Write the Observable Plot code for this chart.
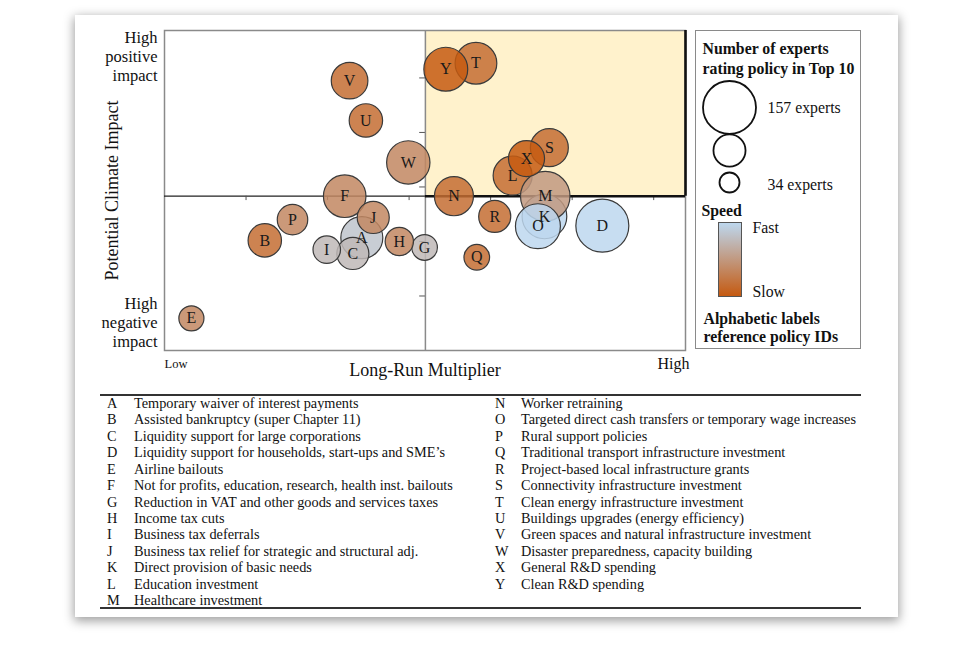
<!DOCTYPE html>
<html><head><meta charset="utf-8">
<script src="https://cdn.jsdelivr.net/npm/d3@7"></script>
<script src="https://cdn.jsdelivr.net/npm/@observablehq/plot@0.6"></script>
<style>
body{margin:0;background:#fff;font-family:"Liberation Serif","Times New Roman",serif;width:975px;height:653px;position:relative;overflow:hidden;color:#111}
#card{position:absolute;left:75px;top:15px;width:823px;height:602px;background:#fff;box-shadow:0 3px 10px 1px rgba(0,0,0,0.38)}
#chart{position:absolute;left:0;top:0}
#legbox{position:absolute;left:695px;top:30px;width:166px;height:319px;border:1.5px solid #8a8a8a;box-sizing:border-box}
#grad{position:absolute;left:718px;top:222px;width:24px;height:75px;border:1px solid #555;box-sizing:border-box}
.hline{position:absolute;left:100px;width:761px;height:2px;background:#333}
.row{position:absolute;font-size:14.3px;line-height:16px;white-space:nowrap}
</style></head><body>
<div id="card"></div>
<div id="chart"></div>
<div id="legbox"></div>
<div id="grad"></div>
<div class="hline" style="top:394px"></div>
<div class="hline" style="top:607px"></div>
<div id="table"></div>
<script>
// ---- data ----
const ids = ["A","B","C","D","E","F","G","H","I","J","K","L","M","N","O","P","Q","R","S","T","U","V","W","X","Y"];
const names = [
  "Temporary waiver of interest payments",
  "Assisted bankruptcy (super Chapter 11)",
  "Liquidity support for large corporations",
  "Liquidity support for households, start-ups and SME\u2019s",
  "Airline bailouts",
  "Not for profits, education, research, health inst. bailouts",
  "Reduction in VAT and other goods and services taxes",
  "Income tax cuts",
  "Business tax deferrals",
  "Business tax relief for strategic and structural adj.",
  "Direct provision of basic needs",
  "Education investment",
  "Healthcare investment",
  "Worker retraining",
  "Targeted direct cash transfers or temporary wage increases",
  "Rural support policies",
  "Traditional transport infrastructure investment",
  "Project-based local infrastructure grants",
  "Connectivity infrastructure investment",
  "Clean energy infrastructure investment",
  "Buildings upgrades (energy efficiency)",
  "Green spaces and natural infrastructure investment",
  "Disaster preparedness, capacity building",
  "General R&D spending",
  "Clean R&D spending"
];
// Long-run multiplier (x) and potential climate impact (y), in axis units
const multiplier = [2.42,1.23,2.31,5.37,0.33,2.21,3.19,2.88,1.99,2.56,4.66,4.27,4.67,3.55,4.58,1.57,3.83,4.05,4.72,3.82,2.47,2.27,2.99,4.44,3.45];
const climate    = [2.07,2.02,1.78,2.29,0.59,2.83,1.89,2.00,1.85,2.44,2.46,3.21,2.83,2.83,2.28,2.40,1.71,2.46,3.72,5.27,4.22,4.95,3.45,3.52,5.16];
// number of experts rating policy in top 10
const experts    = [116,84,79,157,53,118,55,65,62,79,126,105,144,105,127,73,55,79,101,115,84,96,121,94,123];
// speed: 1 = fast, 0 = slow
const speed      = [0.85,0.15,0.75,1.0,0.36,0.36,0.75,0.36,0.75,0.36,1.0,0.15,0.5,0.15,1.0,0.36,0.15,0.15,0.15,0.15,0.15,0.15,0.36,0.0,0.0];
const legendExperts = [157, 79, 34];
const xTicks = [1,2,3,4,5,6];
const yTicks = [1,2,3,4,5];
const xMax = 6.39, yMax = 5.87;   // axis extents
const xMid = 3.2, yMid = 2.83;    // quadrant dividers
const slowColor = "#c55a11", fastColor = "#bdd7ee";

const policies = ids.map((id, i) => ({id, name: names[i], x: multiplier[i], y: climate[i], experts: experts[i], speed: speed[i]}));

const serif = "Liberation Serif";
const lt = (text, o) => Plot.text([text], {lineAnchor: "middle", fill: "#111", ...o});
const chart = Plot.plot({
  width: 975, height: 380,
  marginLeft: 164, marginRight: 290, marginTop: 30, marginBottom: 30,
  style: {background: "transparent", fontFamily: serif},
  x: {domain: [0, xMax], axis: null},
  y: {domain: [0, yMax], axis: null},
  r: {type: "linear", domain: [34, 157], range: [10, 26.5]},
  color: {type: "linear", domain: [0, 1], range: [slowColor, fastColor], interpolate: "rgb"},
  marks: [
    Plot.rect([0], {x1: xMid, x2: xMax, y1: yMid, y2: yMax, fill: "#fff2cc"}),
    Plot.frame({stroke: "#8a8a8a", strokeWidth: 1.5}),
    Plot.ruleX([xMid], {stroke: "#8a8a8a", strokeWidth: 1.5}),
    Plot.ruleY([yMid], {x1: 0, x2: xMid, stroke: "#222", strokeWidth: 1.3}),
    Plot.ruleX(xTicks, {x: d => d, y1: yMid, y2: yMid - 0.08, stroke: "#555", strokeWidth: 1}),
    Plot.ruleY(yTicks, {y: d => d, x1: xMid - 0.07, x2: xMid, stroke: "#555", strokeWidth: 1}),
    Plot.ruleY([yMid], {x1: xMid, x2: xMax, stroke: "#111", strokeWidth: 2.6}),
    Plot.ruleX([xMax], {y1: yMid, y2: yMax, stroke: "#111", strokeWidth: 2.6}),
    Plot.dot(policies, {x: "x", y: "y", r: "experts", fill: "speed", fillOpacity: 0.85, stroke: "#3a3a3a", strokeWidth: 1.2, sort: null}),
    Plot.text(policies, {x: "x", y: "y", text: "id", fontSize: 16, fill: "#1a1a1a", fontFamily: serif}),
    // axis titles
    lt("Potential Climate Impact", {frameAnchor: "left", textAnchor: "middle", rotate: -90, dx: -52, fontSize: 18}),
    lt("Long-Run Multiplier", {frameAnchor: "bottom", textAnchor: "middle", dy: 20, fontSize: 18}),
    lt("High\npositive\nimpact", {frameAnchor: "top-left", textAnchor: "end", dx: -7, dy: 25, lineHeight: 1.15, fontSize: 16.5}),
    lt("High\nnegative\nimpact", {frameAnchor: "bottom-left", textAnchor: "end", dx: -7, dy: -29, lineHeight: 1.15, fontSize: 16.5}),
    lt("Low", {frameAnchor: "bottom-left", textAnchor: "start", dx: 0, dy: 13, fontSize: 12.5}),
    lt("High", {frameAnchor: "bottom-right", textAnchor: "end", dx: 4, dy: 13, fontSize: 16}),
    // size legend
    Plot.dot([legendExperts[0]], {r: d => d, frameAnchor: "top-right", dx: 44, dy: 77, fill: "none", stroke: "#111", strokeWidth: 1.8}),
    Plot.dot([legendExperts[1]], {r: d => d, frameAnchor: "top-right", dx: 44, dy: 120, fill: "none", stroke: "#111", strokeWidth: 1.8}),
    Plot.dot([legendExperts[2]], {r: d => d, frameAnchor: "top-right", dx: 44, dy: 152, fill: "none", stroke: "#111", strokeWidth: 1.8}),
    lt("Number of experts\nrating policy in Top 10", {frameAnchor: "top-left", textAnchor: "start", dx: 538, dy: 27, lineHeight: 1.3, fontSize: 15.8, fontWeight: "bold"}),
    lt(`${legendExperts[0]} experts`, {frameAnchor: "top-left", textAnchor: "start", dx: 603, dy: 77, fontSize: 15.8}),
    lt(`${legendExperts[2]} experts`, {frameAnchor: "top-left", textAnchor: "start", dx: 603, dy: 154, fontSize: 15.8}),
    lt("Speed", {frameAnchor: "top-left", textAnchor: "start", dx: 537, dy: 180, fontSize: 15.8, fontWeight: "bold"}),
    lt("Fast", {frameAnchor: "top-left", textAnchor: "start", dx: 588, dy: 197, fontSize: 15.8}),
    lt("Slow", {frameAnchor: "top-left", textAnchor: "start", dx: 588, dy: 261, fontSize: 15.8}),
    lt("Alphabetic labels\nreference policy IDs", {frameAnchor: "top-left", textAnchor: "start", dx: 539, dy: 297, lineHeight: 1.15, fontSize: 15.8, fontWeight: "bold"})
  ]
});
document.getElementById("chart").appendChild(chart);
document.getElementById("grad").style.background = `linear-gradient(to bottom, ${fastColor}, ${slowColor})`;

// policy key table
const table = document.getElementById("table");
policies.forEach((p, i) => {
  const col = i < 13 ? 0 : 1;
  const row = col ? i - 13 : i;
  const top = 395 + row * 16.42;
  const l = document.createElement("div");
  l.className = "row"; l.textContent = p.id;
  l.style.left = (col ? 495 : 107) + "px"; l.style.top = top + "px";
  const t = document.createElement("div");
  t.className = "row"; t.textContent = p.name;
  t.style.left = (col ? 521 : 134) + "px"; t.style.top = top + "px";
  table.appendChild(l); table.appendChild(t);
});
</script>
</body></html>
